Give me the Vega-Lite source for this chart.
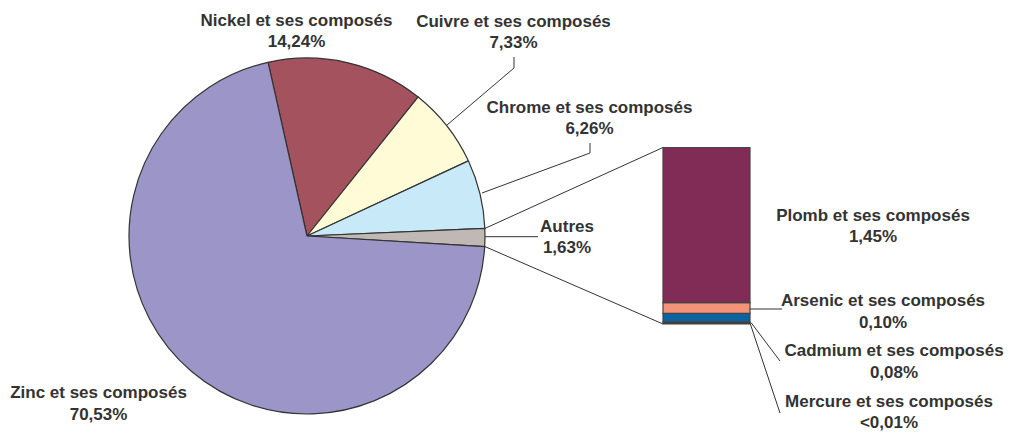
{
  "$schema": "https://vega.github.io/schema/vega-lite/v6.json",
  "width": 1010,
  "height": 435,
  "autosize": {"type": "fit", "contains": "padding"},
  "padding": 0,
  "background": "white",
  "config": {"view": {"stroke": null}, "font": "Liberation Sans"},
  "datasets": {
    "pie": [
      {"metal": "Nickel et ses composés", "share": 14.24, "rank": 1},
      {"metal": "Cuivre et ses composés", "share": 7.33, "rank": 2},
      {"metal": "Chrome et ses composés", "share": 6.26, "rank": 3},
      {"metal": "Autres", "share": 1.63, "rank": 4},
      {"metal": "Zinc et ses composés", "share": 70.53, "rank": 5}
    ],
    "autres": [
      {"metal": "Mercure et ses composés", "share": 0.02, "rank": 1},
      {"metal": "Cadmium et ses composés", "share": 0.08, "rank": 2},
      {"metal": "Arsenic et ses composés", "share": 0.10, "rank": 3},
      {"metal": "Plomb et ses composés", "share": 1.45, "rank": 4}
    ],
    "labels": [
      {"txt": "Nickel et ses composés\n14,24%", "lx": 296.5, "ly": 25.5},
      {"txt": "Cuivre et ses composés\n7,33%", "lx": 513.5, "ly": 26.7},
      {"txt": "Chrome et ses composés\n6,26%", "lx": 589.5, "ly": 112.7},
      {"txt": "Autres\n1,63%", "lx": 567, "ly": 231.7},
      {"txt": "Zinc et ses composés\n70,53%", "lx": 98.5, "ly": 398.3},
      {"txt": "Plomb et ses composés\n1,45%", "lx": 873, "ly": 220.7},
      {"txt": "Arsenic et ses composés\n0,10%", "lx": 883, "ly": 306},
      {"txt": "Cadmium et ses composés\n0,08%", "lx": 894, "ly": 356},
      {"txt": "Mercure et ses composés\n<0,01%", "lx": 889, "ly": 406.7}
    ],
    "leaders": [
      {"x1": 514, "y1": 57, "x2": 514, "y2": 68},
      {"x1": 514, "y1": 68, "x2": 447, "y2": 125},
      {"x1": 590, "y1": 143, "x2": 590, "y2": 153},
      {"x1": 590, "y1": 153, "x2": 482, "y2": 193},
      {"x1": 485, "y1": 236.7, "x2": 538, "y2": 236.7},
      {"x1": 485, "y1": 228.4, "x2": 663, "y2": 147.5},
      {"x1": 485, "y1": 246.6, "x2": 663, "y2": 324},
      {"x1": 750, "y1": 309, "x2": 782, "y2": 309},
      {"x1": 751, "y1": 322.5, "x2": 780, "y2": 361},
      {"x1": 750, "y1": 323, "x2": 780, "y2": 413}
    ]
  },
  "layer": [
    {
      "layer": [
        {
          "data": {"name": "leaders"},
          "mark": {"type": "rule", "color": "#333333", "strokeWidth": 1},
          "encoding": {
            "x": {"field": "x1", "type": "quantitative", "scale": {"domain": [0, 1010], "nice": false, "zero": false}, "axis": null},
            "y": {"field": "y1", "type": "quantitative", "scale": {"domain": [0, 435], "nice": false, "zero": false, "reverse": true}, "axis": null},
            "x2": {"field": "x2"},
            "y2": {"field": "y2"}
          }
        },
        {
          "data": {"name": "pie"},
          "mark": {"type": "arc", "radius": 178, "stroke": "#333333", "strokeWidth": 1.2, "strokeJoin": "round"},
          "encoding": {
            "x": {"datum": 307, "type": "quantitative"},
            "y": {"datum": 236, "type": "quantitative"},
            "theta": {"field": "share", "type": "quantitative", "stack": true, "scale": {"range": [-0.2204, 6.0628]}},
            "order": {"field": "rank", "type": "quantitative"},
            "color": {
              "field": "metal", "type": "nominal", "legend": null,
              "scale": {
                "domain": ["Nickel et ses composés", "Cuivre et ses composés", "Chrome et ses composés", "Autres", "Zinc et ses composés"],
                "range": ["#A4525E", "#FFFBD6", "#C8EAF8", "#C0B8B4", "#9C95C8"]
              }
            }
          }
        },
        {
          "data": {"name": "labels"},
          "mark": {"type": "text", "fontWeight": "bold", "fontSize": 17, "color": "#333333", "align": "center", "baseline": "alphabetic", "lineBreak": "\n", "lineHeight": 21.7},
          "encoding": {
            "x": {"field": "lx", "type": "quantitative"},
            "y": {"field": "ly", "type": "quantitative"},
            "text": {"field": "txt"}
          }
        }
      ]
    },
    {
      "data": {"name": "autres"},
      "transform": [
        {"stack": "share", "groupby": [], "sort": [{"field": "rank", "order": "ascending"}], "as": ["s0", "s1"]}
      ],
      "mark": {"type": "rect", "stroke": "#444444", "strokeWidth": 1.2},
      "encoding": {
        "x": {"datum": 663, "type": "quantitative"},
        "x2": {"datum": 750},
        "y": {"field": "s0", "type": "quantitative", "scale": {"domain": [0, 1.65], "range": [324, 147.5], "nice": false, "zero": false}, "axis": null},
        "y2": {"field": "s1"},
        "fill": {
          "field": "metal", "type": "nominal", "legend": null,
          "scale": {
            "domain": ["Plomb et ses composés", "Arsenic et ses composés", "Cadmium et ses composés", "Mercure et ses composés"],
            "range": ["#812C57", "#F4927A", "#0D63A0", "#3A3A3A"]
          }
        }
      }
    }
  ],
  "resolve": {"scale": {"y": "independent", "color": "independent", "fill": "independent"}}
}
